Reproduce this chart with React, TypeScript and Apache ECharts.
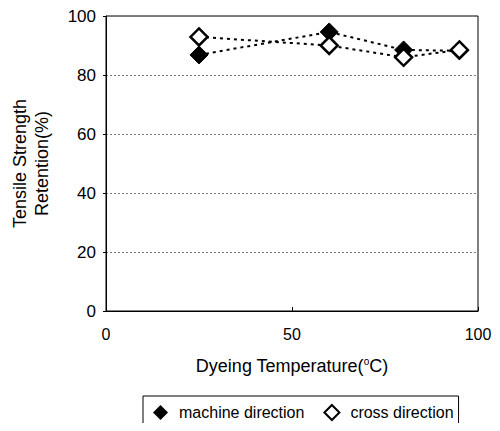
import React, { useEffect, useRef } from "react";
import * as echarts from "echarts";

const temperatures = [25, 60, 80, 95];
const machineDirection = [86.8, 94.6, 88.5, 88.2];
const crossDirection = [92.9, 90.0, 86.0, 88.5];

const FONT = "Liberation Sans, Arial, sans-serif";

export default function App() {
  const ref = useRef<HTMLDivElement>(null);

  useEffect(() => {
    if (!ref.current) return;
    const chart = echarts.init(ref.current, undefined, { renderer: "svg" });
    const pair = (ys: number[]) => temperatures.map((t, i) => [t, ys[i]]);
    chart.setOption({
      animation: false,
      backgroundColor: "#fff",
      textStyle: { fontFamily: FONT },
      grid: {
        left: 106,
        right: 22,
        top: 16,
        bottom: 120,
        show: true,
        borderColor: "#000",
        borderWidth: 1,
      },
      xAxis: {
        type: "value",
        min: 0,
        max: 100,
        interval: 50,
        axisLine: { show: true, lineStyle: { color: "#000", width: 1 } },
        axisTick: { show: true, inside: true, length: 4, lineStyle: { color: "#000" } },
        splitLine: { show: false },
        axisLabel: { color: "#000", fontSize: 16, margin: 15, fontFamily: FONT },
        name: "{a|Dyeing Temperature(}{sup|o}{a|C)}",
        nameLocation: "middle",
        nameGap: 45,
        nameTextStyle: {
          rich: {
            a: { fontSize: 18, color: "#000", fontFamily: FONT },
            sup: { fontSize: 10, color: "#000", fontFamily: FONT, verticalAlign: "top", padding: [0, 0, 10, 0] },
          },
        },
      },
      yAxis: {
        type: "value",
        min: 0,
        max: 100,
        interval: 20,
        axisLine: { show: true, lineStyle: { color: "#000", width: 1 } },
        axisTick: { show: true, length: 3, lineStyle: { color: "#000" } },
        splitLine: { show: true, lineStyle: { color: "#777", type: [2, 2], width: 1 } },
        axisLabel: { color: "#000", fontSize: 17, margin: 10, fontFamily: FONT },
        name: "Tensile Strength\nRetention(%)",
        nameLocation: "middle",
        nameGap: 53,
        nameRotate: 90,
        nameTextStyle: { fontSize: 18, color: "#000", fontFamily: FONT, lineHeight: 22 },
      },
      legend: {
        left: 143,
        top: 396,
        orient: "horizontal",
        borderColor: "#000",
        borderWidth: 1,
        padding: [8, 5, 16, 10],
        itemGap: 19,
        itemWidth: 15,
        itemHeight: 15,
        textStyle: { fontSize: 16, color: "#000", fontFamily: FONT, padding: [0, 0, 0, 6] },
        data: [
          { name: "machine direction", icon: "diamond", itemStyle: { color: "#000", borderColor: "#000", borderWidth: 0 } },
          { name: "cross direction", icon: "diamond", itemStyle: { color: "#fff", borderColor: "#000", borderWidth: 2 } },
        ],
      },
      series: [
        {
          name: "machine direction",
          type: "line",
          data: pair(machineDirection),
          symbol: "diamond",
          symbolSize: 18,
          itemStyle: { color: "#000", borderColor: "#000" },
          lineStyle: { color: "#000", width: 2, type: [3, 4] },
          z: 2,
        },
        {
          name: "cross direction",
          type: "line",
          data: pair(crossDirection),
          symbol: "diamond",
          symbolSize: 17,
          itemStyle: { color: "#fff", borderColor: "#000", borderWidth: 2.5 },
          lineStyle: { color: "#000", width: 2, type: [3, 4] },
          z: 3,
        },
      ],
    });
    return () => chart.dispose();
  }, []);

  return <div ref={ref} style={{ width: 500, height: 431, margin: -8 }} />;
}
